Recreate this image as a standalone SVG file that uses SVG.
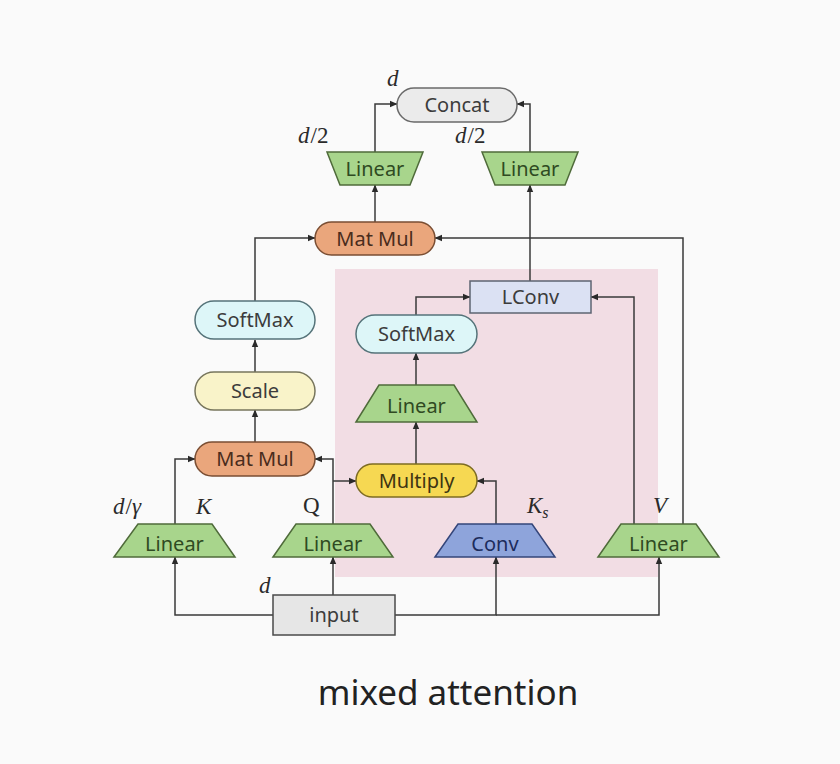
<svg xmlns="http://www.w3.org/2000/svg" width="840" height="764" viewBox="0 0 840 764">
<style>
.lbl{font-family:"Noto Sans","Open Sans",sans-serif;font-size:20px;text-anchor:middle;fill:#3c3c3c}
.math{font-family:"Liberation Serif",serif;font-style:italic;font-size:23px;fill:#2a2a2a}
.up{font-style:normal}
.lin{fill:#a8d58c;stroke:#4f6b3a;stroke-width:1.5}
.lintxt{fill:#2f4a22}
.edge{fill:none;stroke:#3a3a3a;stroke-width:1.5;marker-end:url(#ah)}
</style>
<defs>
<marker id="ah" markerWidth="8" markerHeight="8" refX="7" refY="4" orient="auto" markerUnits="userSpaceOnUse">
<path d="M0,0.8 L7.5,4 L0,7.2 Z" fill="#2a2a2a"/>
</marker>
</defs>
<rect x="0" y="0" width="840" height="764" fill="#fafafa"/>
<rect id="lconv-region" x="335" y="269" width="323" height="308" fill="#f2dde4"/>

<g id="connectors">
<path class="edge" d="M273,615 H175 V557"/>
<path class="edge" d="M333,595 V557"/>
<path class="edge" d="M395,615 H496 V557"/>
<path class="edge" d="M496,615 H659 V557"/>
<path class="edge" d="M175,524 V459 H195"/>
<path class="edge" d="M333,524 V459 H315"/>
<path class="edge" d="M333,481 H356"/>
<path class="edge" d="M496,524 V481 H477"/>
<path class="edge" d="M416,464 V422"/>
<path class="edge" d="M416,385 V353"/>
<path class="edge" d="M416,315 V297 H470"/>
<path class="edge" d="M634,524 V297 H591"/>
<path class="edge" d="M683,524 V238 H435"/>
<path class="edge" d="M255,442 V410"/>
<path class="edge" d="M255,372 V340"/>
<path class="edge" d="M255,301 V238 H315"/>
<path class="edge" d="M375,222 V185"/>
<path class="edge" d="M530,281 V185"/>
<path class="edge" d="M375,152 V104 H397"/>
<path class="edge" d="M530,152 V104 H517"/>
</g>

<g id="concat">
<rect x="397" y="88" width="120" height="34" rx="17" fill="#ebebeb" stroke="#6a6a6a" stroke-width="1.5"/>
<text class="lbl" x="457" y="112">Concat</text>
</g>
<g id="linear-top-left">
<polygon class="lin" points="327,152 423,152 410,185 340,185"/>
<text class="lbl lintxt" x="375" y="176">Linear</text>
</g>
<g id="linear-top-right">
<polygon class="lin" points="482,152 578,152 565,185 495,185"/>
<text class="lbl lintxt" x="530" y="176">Linear</text>
</g>
<g id="matmul-top">
<rect x="315" y="222" width="120" height="33" rx="16.5" fill="#eaa67c" stroke="#7a4e33" stroke-width="1.5"/>
<text class="lbl" x="375" y="245.5" style="fill:#4a2c1c">Mat Mul</text>
</g>
<g id="softmax-left">
<rect x="195" y="301" width="120" height="38" rx="19" fill="#ddf6f8" stroke="#557379" stroke-width="1.5"/>
<text class="lbl" x="255" y="327">SoftMax</text>
</g>
<g id="scale">
<rect x="195" y="372" width="120" height="38" rx="19" fill="#f9f3c9" stroke="#77755c" stroke-width="1.5"/>
<text class="lbl" x="255" y="398">Scale</text>
</g>
<g id="matmul-left">
<rect x="195" y="442" width="120" height="34" rx="17" fill="#eaa67c" stroke="#7a4e33" stroke-width="1.5"/>
<text class="lbl" x="255" y="466" style="fill:#4a2c1c">Mat Mul</text>
</g>
<g id="lconv">
<rect x="470" y="281" width="121" height="32" fill="#dbe1f3" stroke="#5e6472" stroke-width="1.5"/>
<text class="lbl" x="530.5" y="304">LConv</text>
</g>
<g id="softmax-right">
<rect x="356" y="315" width="121" height="38" rx="19" fill="#ddf6f8" stroke="#557379" stroke-width="1.5"/>
<text class="lbl" x="416.5" y="341">SoftMax</text>
</g>
<g id="linear-mid">
<polygon class="lin" points="356,422 379,385 454,385 477,422"/>
<text class="lbl lintxt" x="416.5" y="412.5">Linear</text>
</g>
<g id="multiply">
<rect x="356" y="464" width="121" height="33" rx="16.5" fill="#f6d852" stroke="#7d6c22" stroke-width="1.5"/>
<text class="lbl" x="416.5" y="487.5" style="fill:#3e3512">Multiply</text>
</g>
<g id="linear-k">
<polygon class="lin" points="114,557 138,524 212,524 235,557"/>
<text class="lbl lintxt" x="174.5" y="550.5">Linear</text>
</g>
<g id="linear-q">
<polygon class="lin" points="273,557 296,524 370,524 393,557"/>
<text class="lbl lintxt" x="333" y="550.5">Linear</text>
</g>
<g id="conv">
<polygon points="435,557 458,524 532,524 555,557" fill="#8ea4db" stroke="#34457a" stroke-width="1.5"/>
<text class="lbl" x="495" y="550.5" style="fill:#1d2c5c">Conv</text>
</g>
<g id="linear-v">
<polygon class="lin" points="598,557 621,524 696,524 719,557"/>
<text class="lbl lintxt" x="658.5" y="550.5">Linear</text>
</g>
<g id="input">
<rect x="273" y="595" width="122" height="40" fill="#e6e6e6" stroke="#4a4a4a" stroke-width="1.5"/>
<text class="lbl" x="334" y="622">input</text>
</g>

<g id="labels">
<text class="math" x="387" y="86">d</text>
<text class="math" x="298" y="143">d<tspan class="up" dx="1">/2</tspan></text>
<text class="math" x="455" y="143">d<tspan class="up" dx="1">/2</tspan></text>
<text class="math" x="113" y="514">d<tspan class="up" dx="1">/</tspan>γ</text>
<text class="math" x="196" y="514">K</text>
<text class="math up" x="303" y="513" style="font-style:normal">Q</text>
<text class="math" x="527" y="513">K<tspan font-size="16" dy="5">s</tspan></text>
<text class="math" x="653" y="513">V</text>
<text class="math" x="259" y="593">d</text>
</g>

<text x="448" y="705" font-family="Noto Sans, Open Sans, sans-serif" font-size="35" text-anchor="middle" fill="#222">mixed attention</text>
</svg>
